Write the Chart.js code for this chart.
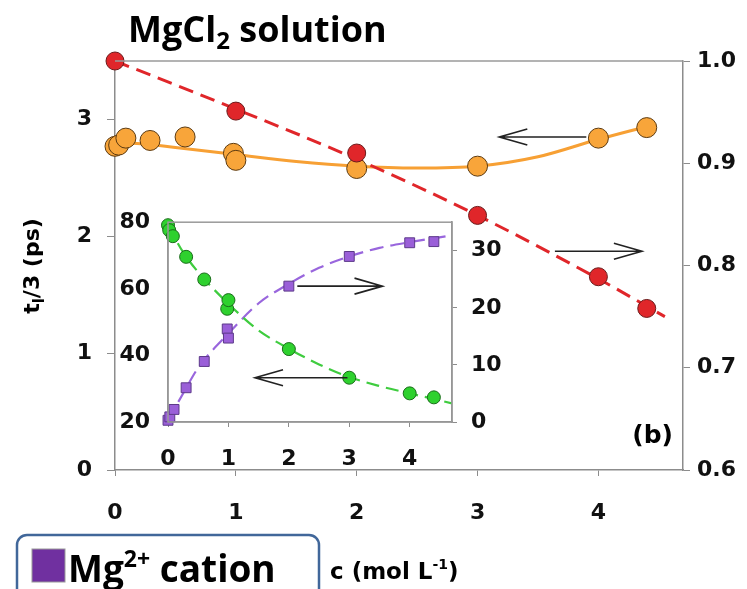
<!DOCTYPE html>
<html>
<head>
<meta charset="utf-8">
<script src="https://cdn.jsdelivr.net/npm/chart.js@4.4.1/dist/chart.umd.min.js"></script>
<style>
  body { margin: 0; background: #fff; }
  #wrap { position: relative; width: 747px; height: 589px; overflow: hidden; }
  #mainChart { position: absolute; left: 0; top: 0; }
  #insetChart { position: absolute; left: 116px; top: 195px; }
</style>
</head>
<body>
<div id="wrap">
  <canvas id="mainChart" width="747" height="589"></canvas>
  <canvas id="insetChart" width="410" height="272"></canvas>
</div>
<script>
// main panel: concentration (mol/L)
const xTicks = [0, 1, 2, 3, 4];
const tTicks = [0, 1, 2, 3];
const rTicks = [0.6, 0.7, 0.8, 0.9, 1.0];

// orange circles, left axis t_l/3 (ps)
const orangeX = [0, 0.03, 0.09, 0.29, 0.58, 0.98, 1.0, 2.0, 3.0, 4.0, 4.4];
const orangeT = [2.77, 2.78, 2.84, 2.82, 2.85, 2.71, 2.65, 2.58, 2.60, 2.84, 2.93];
const orangeFitX = [0, 0.25, 0.5, 1, 1.5, 2, 2.5, 3, 3.5, 4, 4.4];
const orangeFitT = [2.80, 2.79, 2.76, 2.70, 2.64, 2.60, 2.585, 2.60, 2.68, 2.83, 2.94];

// red circles, right axis
const redX = [0, 1, 2, 3, 4, 4.4];
const redR = [1.0, 0.951, 0.910, 0.849, 0.789, 0.758];
const redFitX = [0, 1, 2, 3, 4, 4.55];
const redFitR = [1.0, 0.953, 0.904, 0.849, 0.787, 0.750];

// inset panel
const insetXTicks = [0, 1, 2, 3, 4];
const insetLTicks = [20, 40, 60, 80];
const insetRTicks = [0, 10, 20, 30];

const greenX = [0, 0.02, 0.08, 0.3, 0.6, 0.98, 1.0, 2.0, 3.0, 4.0, 4.4];
const greenV = [79.1, 77.6, 75.8, 69.6, 62.8, 54.0, 56.6, 41.9, 33.3, 28.6, 27.4];
const greenFitX = [0, 0.25, 0.5, 1, 1.5, 2, 2.5, 3, 3.5, 4, 4.7];
const greenFitV = [79, 71, 65, 55.5, 47.5, 42, 37.3, 33.5, 30.8, 28.6, 25.6];

const purpleX = [0, 0.03, 0.1, 0.3, 0.6, 0.98, 1.0, 2.0, 3.0, 4.0, 4.4];
const purpleV = [0.3, 0.9, 2.2, 6.0, 10.6, 16.3, 14.7, 23.8, 29.0, 31.4, 31.6];
const purpleFitX = [0, 0.25, 0.5, 1, 1.5, 2, 2.5, 3, 3.5, 4, 4.7];
const purpleFitV = [0.3, 5, 9.5, 15.5, 20.8, 24.2, 27, 29, 30.5, 31.5, 32.7];

// arrows in data coordinates: [x, y] on the named y axis
const mainArrows = [
  { from: [3.9, 2.85], to: [3.18, 2.85], axis: "y" },
  { from: [3.64, 0.814], to: [4.36, 0.814], axis: "y2" },
];
const insetArrows = [
  { from: [2.14, 23.8], to: [3.55, 23.8], axis: "y2" },
  { from: [2.97, 33.3], to: [1.44, 33.3], axis: "y" },
];

const pts = (xs, ys) => xs.map((x, i) => ({ x: x, y: ys[i] }));
const tickFont = { family: "'DejaVu Sans'", weight: "bold", size: 22 };
const axisGray = "#8c8c8c";

function drawRuns(ctx, x, y, runs) {
  let cx = x;
  runs.forEach(function (r) {
    ctx.font = r.font;
    ctx.fillText(r.text, cx, y + (r.dy || 0));
    cx += ctx.measureText(r.text).width;
  });
  return cx - x;
}
function runsWidth(ctx, runs) {
  let w = 0;
  runs.forEach(function (r) { ctx.font = r.font; w += ctx.measureText(r.text).width; });
  return w;
}

function drawArrows(chart, arrows) {
  const ctx = chart.ctx;
  const xs = chart.scales.x;
  ctx.save();
  ctx.strokeStyle = "#222";
  ctx.lineWidth = 1.6;
  arrows.forEach(function (a) {
    const ys = chart.scales[a.axis];
    const x1 = xs.getPixelForValue(a.from[0]), y1 = ys.getPixelForValue(a.from[1]);
    const x2 = xs.getPixelForValue(a.to[0]), y2 = ys.getPixelForValue(a.to[1]);
    const dir = Math.sign(x2 - x1);
    ctx.beginPath();
    ctx.moveTo(x1, y1);
    ctx.lineTo(x2, y2);
    ctx.moveTo(x2 - dir * 28, y2 - 8);
    ctx.lineTo(x2, y2);
    ctx.lineTo(x2 - dir * 28, y2 + 8);
    ctx.stroke();
  });
  ctx.restore();
}

const mainDecor = {
  id: "mainDecor",
  afterDatasetsDraw(chart) {
    drawArrows(chart, mainArrows);
  },
  afterDraw(chart) {
    const ctx = chart.ctx;
    const a = chart.chartArea;
    ctx.save();
    // top border of the box
    ctx.strokeStyle = "#9a9a9a";
    ctx.lineWidth = 1.5;
    ctx.beginPath();
    ctx.moveTo(a.left, a.top);
    ctx.lineTo(a.right, a.top);
    ctx.stroke();

    ctx.fillStyle = "#000";
    ctx.textBaseline = "alphabetic";
    // title
    drawRuns(ctx, 128, 42, [
      { text: "MgCl", font: "bold 36px 'Open Sans'" },
      { text: "2", font: "bold 24px 'Open Sans'", dy: 7 },
      { text: " solution", font: "bold 36px 'Open Sans'" },
    ]);

    // y axis title
    const yRuns = [
      { text: "t", font: "bold 22px 'DejaVu Sans'" },
      { text: "l", font: "bold 15px 'DejaVu Sans'", dy: 5 },
      { text: "/3 (ps)", font: "bold 22px 'DejaVu Sans'" },
    ];
    ctx.save();
    ctx.translate(39, 266);
    ctx.rotate(-Math.PI / 2);
    drawRuns(ctx, -runsWidth(ctx, yRuns) / 2, 0, yRuns);
    ctx.restore();

    // x axis title
    drawRuns(ctx, 330, 579, [
      { text: "c (mol L", font: "bold 23px 'DejaVu Sans'" },
      { text: "-1", font: "bold 14px 'DejaVu Sans'", dy: -10 },
      { text: ")", font: "bold 23px 'DejaVu Sans'" },
    ]);

    // panel letter
    ctx.font = "bold 25px 'DejaVu Sans'";
    ctx.textAlign = "right";
    ctx.fillText("(b)", 673, 443);
    ctx.textAlign = "left";

    // legend box
    ctx.strokeStyle = "#41679a";
    ctx.lineWidth = 2.5;
    ctx.beginPath();
    ctx.roundRect(17, 535, 302, 80, 10);
    ctx.stroke();
    ctx.fillStyle = "#7030a0";
    ctx.fillRect(32, 549, 33, 33);
    ctx.strokeStyle = "#999";
    ctx.lineWidth = 1;
    ctx.strokeRect(32, 549, 33, 33);
    ctx.fillStyle = "#000";
    drawRuns(ctx, 68, 582, [
      { text: "Mg", font: "bold 37px 'Open Sans'" },
      { text: "2+", font: "bold 23px 'Open Sans'", dy: -15 },
      { text: " cation", font: "bold 37px 'Open Sans'" },
    ]);
    ctx.restore();
  },
};

new Chart(document.getElementById("mainChart"), {
  type: "scatter",
  data: {
    datasets: [
      {
        label: "red points",
        data: pts(redX, redR),
        yAxisID: "y2",
        pointRadius: 9,
        pointBackgroundColor: "#e0262a",
        pointBorderColor: "#6b1a1a",
        pointBorderWidth: 1,
        clip: false,
      },
      {
        label: "orange points",
        data: pts(orangeX, orangeT),
        yAxisID: "y",
        pointRadius: 10,
        pointBackgroundColor: "#f8a53a",
        pointBorderColor: "#5c3a10",
        pointBorderWidth: 1,
        clip: false,
      },
      {
        label: "red fit",
        data: pts(redFitX, redFitR),
        yAxisID: "y2",
        showLine: true,
        pointRadius: 0,
        borderColor: "#e0262a",
        borderWidth: 3,
        borderDash: [15, 8],
        cubicInterpolationMode: "monotone",
        clip: false,
      },
      {
        label: "orange fit",
        data: pts(orangeFitX, orangeFitT),
        yAxisID: "y",
        showLine: true,
        pointRadius: 0,
        borderColor: "#f7a034",
        borderWidth: 3,
        cubicInterpolationMode: "monotone",
        clip: false,
      },
    ],
  },
  options: {
    responsive: false,
    animation: false,
    layout: { padding: { top: 61 } },
    plugins: { legend: { display: false }, tooltip: { enabled: false } },
    scales: {
      x: {
        type: "linear",
        min: 0,
        max: 4.7,
        afterBuildTicks: (s) => { s.ticks = xTicks.map((v) => ({ value: v })); },
        afterFit: (s) => { s.height = 119; },
        ticks: { font: tickFont, color: "#111", padding: 24, maxRotation: 0 },
        grid: { drawOnChartArea: false, tickLength: 6, color: axisGray },
        border: { color: axisGray, width: 1.5 },
      },
      y: {
        position: "left",
        min: 0,
        max: 3.5,
        afterBuildTicks: (s) => { s.ticks = tTicks.map((v) => ({ value: v })); },
        afterFit: (s) => { s.width = 115; },
        ticks: { font: tickFont, color: "#111", padding: 15 },
        grid: { drawOnChartArea: false, tickLength: 8, color: axisGray },
        border: { color: axisGray, width: 1.5 },
      },
      y2: {
        position: "right",
        min: 0.6,
        max: 1.0,
        afterBuildTicks: (s) => { s.ticks = rTicks.map((v) => ({ value: v })); },
        afterFit: (s) => { s.width = 64; },
        ticks: { font: tickFont, color: "#111", padding: 7, callback: (v) => v.toFixed(1) },
        grid: { drawOnChartArea: false, tickLength: 7, color: axisGray },
        border: { color: axisGray, width: 1.5 },
      },
    },
  },
  plugins: [mainDecor],
});

const insetDecor = {
  id: "insetDecor",
  afterDatasetsDraw(chart) {
    drawArrows(chart, insetArrows);
  },
  afterDraw(chart) {
    const ctx = chart.ctx;
    const a = chart.chartArea;
    ctx.save();
    ctx.strokeStyle = "#9a9a9a";
    ctx.lineWidth = 1.5;
    ctx.strokeRect(a.left, a.top, a.right - a.left, a.bottom - a.top);
    ctx.restore();
  },
};

new Chart(document.getElementById("insetChart"), {
  type: "scatter",
  data: {
    datasets: [
      {
        label: "green points",
        data: pts(greenX, greenV),
        yAxisID: "y",
        pointRadius: 6.5,
        pointBackgroundColor: "#2ed12e",
        pointBorderColor: "#1a6b1a",
        pointBorderWidth: 1,
        clip: false,
      },
      {
        label: "purple points",
        data: pts(purpleX, purpleV),
        yAxisID: "y2",
        pointStyle: "rect",
        pointRadius: 7,
        pointBackgroundColor: "#9a5fd8",
        pointBorderColor: "#5d3a8a",
        pointBorderWidth: 1,
        clip: false,
      },
      {
        label: "green fit",
        data: pts(greenFitX, greenFitV),
        yAxisID: "y",
        showLine: true,
        pointRadius: 0,
        borderColor: "#3fcc3f",
        borderWidth: 2.2,
        borderDash: [13, 7],
        cubicInterpolationMode: "monotone",
      },
      {
        label: "purple fit",
        data: pts(purpleFitX, purpleFitV),
        yAxisID: "y2",
        showLine: true,
        pointRadius: 0,
        borderColor: "#9966dd",
        borderWidth: 2.2,
        borderDash: [14, 7],
        cubicInterpolationMode: "monotone",
      },
    ],
  },
  options: {
    responsive: false,
    animation: false,
    layout: { padding: { top: 22 } },
    plugins: { legend: { display: false }, tooltip: { enabled: false } },
    scales: {
      x: {
        type: "linear",
        min: 0,
        max: 4.7,
        afterBuildTicks: (s) => { s.ticks = insetXTicks.map((v) => ({ value: v })); },
        afterFit: (s) => { s.height = 45; },
        ticks: { font: tickFont, color: "#111", padding: 19, maxRotation: 0 },
        grid: { drawOnChartArea: false, tickLength: 5, color: axisGray },
        border: { color: axisGray, width: 1.5 },
      },
      y: {
        position: "left",
        min: 20,
        max: 80,
        afterBuildTicks: (s) => { s.ticks = insetLTicks.map((v) => ({ value: v })); },
        afterFit: (s) => { s.width = 52; },
        ticks: { font: tickFont, color: "#111", padding: 10 },
        grid: { display: false },
        border: { color: axisGray, width: 1.5 },
      },
      y2: {
        position: "right",
        min: 0,
        max: 35,
        afterBuildTicks: (s) => { s.ticks = insetRTicks.map((v) => ({ value: v })); },
        afterFit: (s) => { s.width = 74; },
        ticks: { font: tickFont, color: "#111", padding: 14 },
        grid: { drawOnChartArea: false, tickLength: 5, color: axisGray },
        border: { color: axisGray, width: 1.5 },
      },
    },
  },
  plugins: [insetDecor],
});
</script>
</body>
</html>
